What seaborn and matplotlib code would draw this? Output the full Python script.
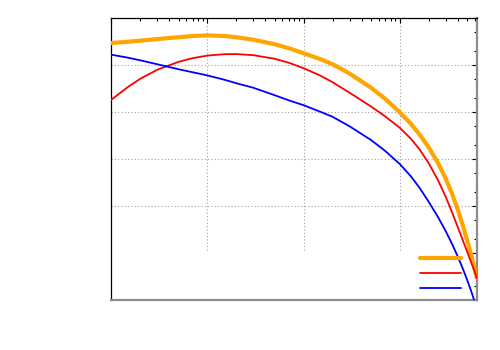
import matplotlib
matplotlib.use("Agg")
import matplotlib.pyplot as plt
from matplotlib.lines import Line2D
from matplotlib.ticker import LogLocator, NullFormatter
import seaborn as sns

# values (log-log axes)
x = [1, 1.5, 2, 3, 5, 7, 10, 15, 20, 30, 50, 70, 100, 150, 200, 300, 500, 700,
     1000, 1300, 1600, 2000, 2500, 3000, 3500, 4000, 4500, 5000, 5500, 6000, 6300]
total = [2.94e5, 3.13e5, 3.29e5, 3.57e5, 3.90e5, 4.14e5, 4.27e5, 4.14e5, 3.90e5,
         3.45e5, 2.77e5, 2.28e5, 1.78e5, 1.33e5, 1.04e5, 6.61e4, 3.31e4, 1.93e4,
         9.86e3, 5.65e3, 3.36e3, 1.77e3, 817, 385, 182, 84.9, 39.9, 19.1, 9.29,
         4.62, 3.06]
red = [1.83e4, 3.45e4, 5.11e4, 7.94e4, 1.17e5, 1.40e5, 1.59e5, 1.70e5, 1.71e5,
       1.62e5, 1.36e5, 1.12e5, 8.55e4, 5.92e4, 4.31e4, 2.58e4, 1.32e4, 8.17e3,
       4.63e3, 2.72e3, 1.62e3, 815, 353, 158, 73.3, 36.1, 19.2, 10.9, 6.50,
       4.04, 2.95]
blue = [1.66e5, 1.43e5, 1.26e5, 1.04e5, 8.15e4, 7.03e4, 6.01e4, 4.87e4, 4.10e4,
        3.29e4, 2.28e4, 1.78e4, 1.40e4, 1.01e4, 7.94e3, 4.99e3, 2.56e3, 1.51e3,
        785, 433, 247, 123, 58.2, 29.4, 15.6, 8.51, 4.79, 2.74, 1.59, 0.93, 0.68]

xlim = (1, 10 ** 3.8)
ylim = (1, 1e6)

sns.set_style("white")
fig = plt.figure(figsize=(5, 3.5), dpi=100)
ax = fig.add_axes([0.2226, 0.142, 0.7310, 0.8066])
ax.set_xscale("log")
ax.set_yscale("log")
ax.set_xlim(*xlim)
ax.set_ylim(*ylim)

# grid (stops above the key area like the original)
grid_kw = dict(color="#a0a0a0", linestyle=(0, (1, 2)), linewidth=0.8, zorder=0)
ax.hlines([1e2, 1e3, 1e4, 1e5], xlim[0], xlim[1], **grid_kw)
ax.vlines([10, 100, 1000], 11.7, ylim[1], **grid_kw)

sns.lineplot(x=x, y=total, ax=ax, color="orange", linewidth=3.0, zorder=3)
sns.lineplot(x=x, y=red, ax=ax, color="red", linewidth=1.3, zorder=4)
sns.lineplot(x=x, y=blue, ax=ax, color="blue", linewidth=1.3, zorder=4)
for ln in ax.get_lines():
    ln.set_solid_joinstyle("round")

ax.xaxis.set_major_locator(LogLocator(base=10, numticks=10))
ax.xaxis.set_minor_locator(LogLocator(base=10, subs=range(2, 10), numticks=20))
ax.yaxis.set_major_locator(LogLocator(base=10, numticks=10))
ax.yaxis.set_minor_locator(LogLocator(base=10, subs=[2, 5], numticks=20))
ax.xaxis.set_major_formatter(NullFormatter())
ax.xaxis.set_minor_formatter(NullFormatter())
ax.yaxis.set_major_formatter(NullFormatter())
ax.yaxis.set_minor_formatter(NullFormatter())
ax.tick_params(which="both", direction="in", top=True, right=True, color="black")
ax.tick_params(which="major", length=3.5, width=0.8)
ax.tick_params(which="minor", length=2, width=0.8)

for side in ["left", "top"]:
    ax.spines[side].set_color("black")
    ax.spines[side].set_linewidth(0.9)
for side in ["bottom", "right"]:
    ax.spines[side].set_color("#8c8c8c")
    ax.spines[side].set_linewidth(1.6)

handles = [Line2D([], [], color="orange", linewidth=3.0),
           Line2D([], [], color="red", linewidth=1.3),
           Line2D([], [], color="blue", linewidth=1.3)]
ax.legend(handles, ["", "", ""], loc="center", bbox_to_anchor=(0.9007, 0.0949),
          frameon=False, fontsize=9, handlelength=3.3, handletextpad=0,
          borderpad=0, labelspacing=0.16)

fig.savefig("out.png", dpi=100)
